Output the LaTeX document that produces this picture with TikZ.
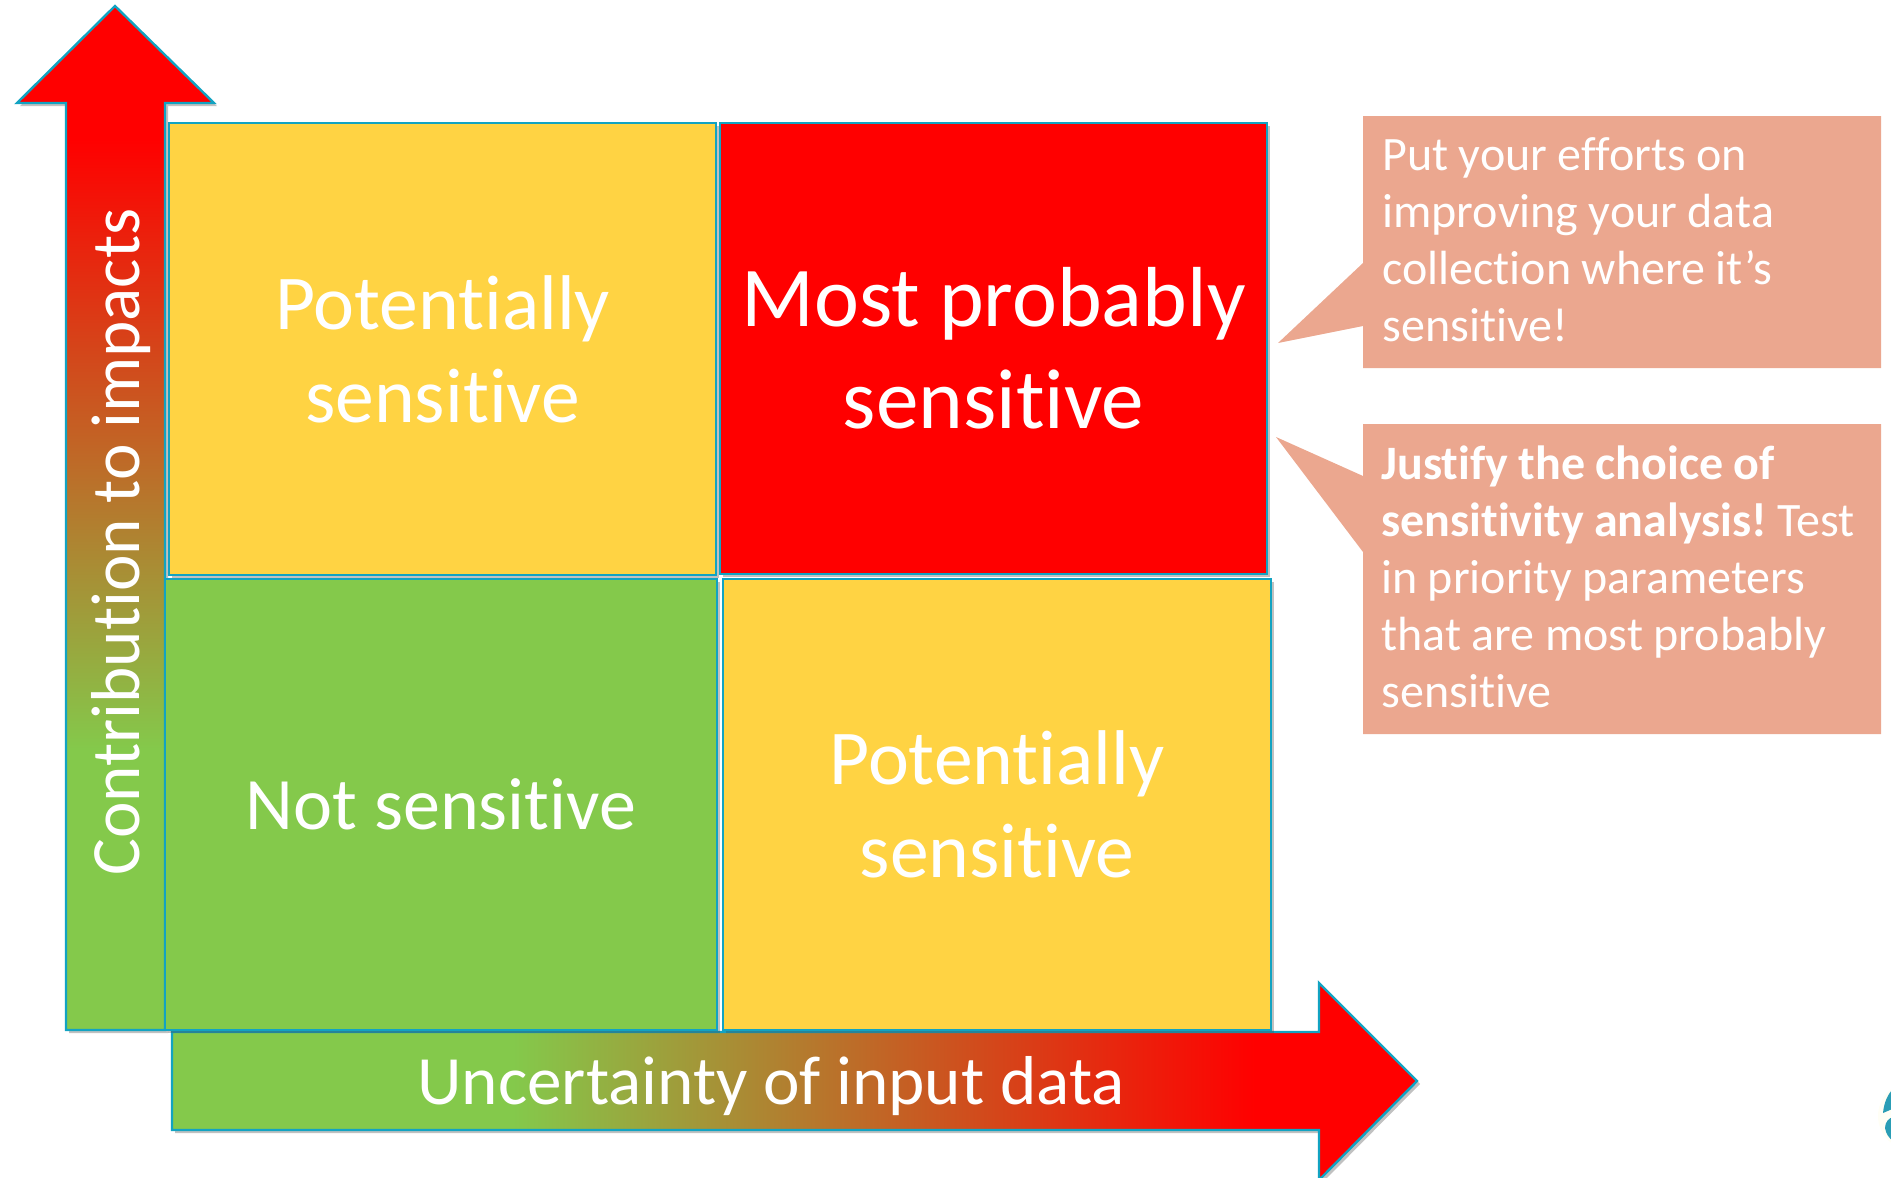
\documentclass[tikz,border=0pt]{standalone}
\usepackage{fontspec}
\setmainfont{Carlito}[Ligatures=NoCommon]
\usetikzlibrary{shadows}
\definecolor{edge}{HTML}{12A3C2}
\definecolor{gr}{HTML}{84C94B}
\definecolor{ye}{HTML}{FFD343}
\definecolor{re}{HTML}{FF0000}
\definecolor{sal}{HTML}{EBA78F}
\definecolor{logoteal}{HTML}{2A9DB5}
\pgfdeclareverticalshading{upgrad}{100bp}{color(0bp)=(gr); color(25bp)=(gr); color(38.7bp)=(gr); color(68.5bp)=(re); color(100bp)=(re)}
\pgfdeclarehorizontalshading{rightgrad}{100bp}{color(0bp)=(gr); color(25bp)=(gr); color(38.7bp)=(gr); color(68.5bp)=(re); color(100bp)=(re)}
\newcommand{\tightsp}{\frenchspacing\spaceskip=5.2pt\relax}
\tikzset{
  softshadow/.style={drop shadow={shadow xshift=1.5pt,shadow yshift=-1.5pt,opacity=.35,fill=black!70}},
  panel/.style={draw=edge,line width=1.2pt,anchor=north west,inner sep=0pt,outer sep=0pt,text=white,align=center,softshadow},
  axisarrow/.style={draw=edge,line width=1.2pt,softshadow},
  callout/.style={fill=sal,draw=none},
  callouttext/.style={anchor=north west,inner sep=0pt,text=white,align=left,text width=495*0.5pt,font=\fontsize{24}{28.6}\selectfont},
  axislabel/.style={text=white,inner sep=0pt,font=\fontsize{34.6}{40}\selectfont}
}
\begin{document}
\begin{tikzpicture}[x=0.5pt,y=-0.5pt]
\useasboundingbox (0,0) rectangle (1891,1178);
\clip (0,0) rectangle (1891,1178);
% axis arrows
\path[axisarrow,shading=upgrad] (115,6) -- (214,103) -- (165,103) -- (165,1030) -- (66,1030) -- (66,103) -- (17,103) -- cycle;
\path[axisarrow,shading=rightgrad] (172,1032) -- (1319,1032) -- (1319,983) -- (1417,1081) -- (1319,1180) -- (1319,1130) -- (172,1130) -- cycle;
\node[axislabel,rotate=90] (ylabel) at (121,542) {Contribution to impacts};
\node[axislabel] (xlabel) at (771,1086) {Uncertainty of input data};
% panels
\node[panel,fill=ye,minimum width=547*0.5pt,minimum height=452*0.5pt,font=\fontsize{38.8}{46.5}\selectfont] (tl) at (169,123) {Potentially\\sensitive};
\node[panel,fill=re,minimum width=547*0.5pt,minimum height=451*0.5pt,font=\fontsize{42.6}{51}\selectfont] (tr) at (720,123) {Most probably\\sensitive};
\node[panel,fill=gr,minimum width=552*0.5pt,minimum height=451*0.5pt,font=\fontsize{37}{46.5}\selectfont] (bl) at (165,579) {Not sensitive};
\node[panel,fill=ye,minimum width=548*0.5pt,minimum height=451*0.5pt,font=\fontsize{38.8}{46.5}\selectfont] (br) at (723,579) {Potentially\\sensitive};
% callouts
\coordinate (tipa) at (1278,343);
\coordinate (tipb) at (1276,437);
\path[callout] (1363,116) -- (1881,116) -- (1881,368) -- (1363,368) -- (1363,326) -- (tipa) -- (1363,263) -- cycle;
\path[callout] (1363,424) -- (1881,424) -- (1881,734) -- (1363,734) -- (1363,552) -- (tipb) -- (1363,476) -- cycle;
\node[callouttext] (ca) at (1382,137) {\tightsp Put your efforts on\\improving your data\\collection where it’s\\sensitive!};
\node[callouttext] (cb) at (1381,445) {\tightsp\textbf{Justify the choice of}\\\textbf{sensitivity analysis!} Test\\in priority parameters\\that are most probably\\sensitive};
% logo fragment at the edge
\fill[white!96!yellow] (1912,1116) circle (34);
\fill[logoteal] (1883,1113) .. controls (1884,1102) and (1888,1094) .. (1893,1089) -- (1893,1109) .. controls (1889,1110) and (1886,1112) .. (1883,1113) -- cycle;
\fill[logoteal] (1885,1128) .. controls (1885,1122) and (1889,1118) .. (1893,1117) -- (1893,1141) .. controls (1889,1138) and (1886,1134) .. (1885,1128) -- cycle;
\end{tikzpicture}
\end{document}
